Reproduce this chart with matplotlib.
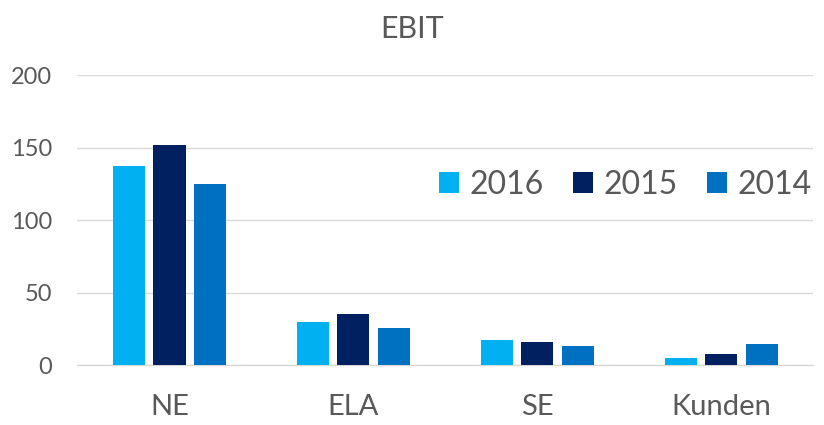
import matplotlib

matplotlib.use("Agg")
import matplotlib.pyplot as plt
import numpy as np

CATEGORIES = ["NE", "ELA", "SE", "Kunden"]
YEARS = ["2016", "2015", "2014"]
EBIT_2016 = [137, 30, 17, 5]
EBIT_2015 = [152, 35, 16, 7.5]
EBIT_2014 = [125, 25.5, 13, 14.5]
Y_TICKS = [0, 50, 100, 150, 200]

COLORS = ["#00B0F0", "#002060", "#0070C0"]
TEXT = "#595959"
GRID = "#D9D9D9"

plt.rcParams["font.family"] = ["Lato", "DejaVu Sans"]

fig = plt.figure(figsize=(8.24, 4.25), dpi=100)
ax = fig.add_axes([0.094, 0.141, 0.893, 0.6825])

x = np.arange(len(CATEGORIES))
width = 0.175
step = 0.22
for i, (vals, year) in enumerate(zip([EBIT_2016, EBIT_2015, EBIT_2014], YEARS)):
    ax.bar(x + (i - 1) * step, vals, width=width, color=COLORS[i], label=year, zorder=3)

ax.set_xlim(-0.5, len(CATEGORIES) - 0.5)
ax.set_ylim(0, 200)
ax.set_yticks(Y_TICKS)
ax.set_xticks(x)
ax.set_xticklabels(CATEGORIES)
ax.grid(True, axis="y", color=GRID, linewidth=1.0, zorder=0)
for side in ["top", "right", "left"]:
    ax.spines[side].set_visible(False)
ax.spines["bottom"].set_color(GRID)
ax.spines["bottom"].set_linewidth(1.0)
ax.tick_params(axis="y", length=0, pad=18, labelsize=17, labelcolor=TEXT)
ax.tick_params(axis="x", length=0, pad=21, labelsize=21, labelcolor=TEXT)

fig.text(0.5, 1 - 29 / 425, "EBIT", ha="center", va="center", fontsize=22, color=TEXT)

ax.legend(
    loc="center right",
    bbox_to_anchor=(1.016, 1 - 185 / 425),
    bbox_transform=fig.transFigure,
    ncol=3,
    frameon=False,
    fontsize=23,
    labelcolor=TEXT,
    handlelength=0.63,
    handleheight=0.63,
    handletextpad=0.34,
    columnspacing=0.9,
    borderpad=0.3,
)

fig.savefig("out.png", dpi=100)
